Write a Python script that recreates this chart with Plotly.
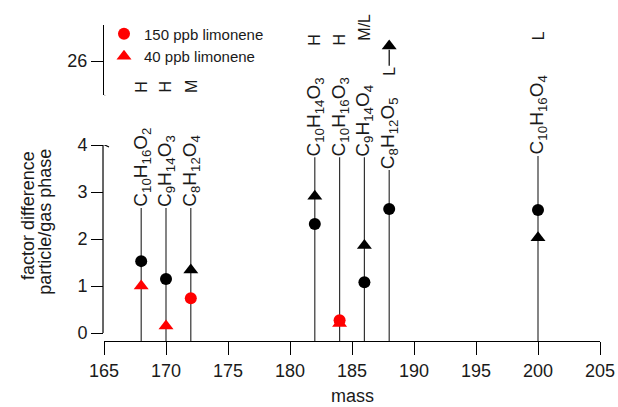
import plotly.graph_objects as go

# ---------------- data ----------------
masses = [168, 170, 172, 182, 184, 186, 188, 200]
formulas = [
    "C<sub>10</sub>H<sub>16</sub>O<sub>2</sub>",
    "C<sub>9</sub>H<sub>14</sub>O<sub>3</sub>",
    "C<sub>8</sub>H<sub>12</sub>O<sub>4</sub>",
    "C<sub>10</sub>H<sub>14</sub>O<sub>3</sub>",
    "C<sub>10</sub>H<sub>16</sub>O<sub>3</sub>",
    "C<sub>9</sub>H<sub>14</sub>O<sub>4</sub>",
    "C<sub>8</sub>H<sub>12</sub>O<sub>5</sub>",
    "C<sub>10</sub>H<sub>16</sub>O<sub>4</sub>",
]
volatility = ["H", "H", "M", "H", "H", "M/L", "L", "L"]
factor_150ppb = [1.53, 1.15, 0.74, 2.32, 0.27, 1.08, 2.64, 2.62]
factor_40ppb = [1.00, 0.15, 1.34, 2.91, 0.20, 1.86, None, 2.03]
red_150ppb = [False, False, True, False, True, False, False, False]
red_40ppb = [True, True, False, False, True, False, False, False]
offscale_mass = 188
offscale_40ppb = 26.32
x_ticks = [165, 170, 175, 180, 185, 190, 195, 200, 205]
y_ticks_lower = [0, 1, 2, 3, 4]
y_ticks_upper = [26]

# ---------------- layout helpers ----------------
FONT = "Arial, Liberation Sans, sans-serif"
TXT = "#1a1a1a"
LOW_RANGE = [-0.17, 4.0]
UP_RANGE = [25.277, 26.766]
label_base = [2.66, 2.66, 2.66, 3.74, 3.74, 3.74, 3.47, 3.77]
vol_base = [25.31, 25.31, 25.31, 26.30, 26.30, 26.41, None, 26.41]
offscale_label_y = 25.78
offscale_line = [25.90, 26.24]

fig = go.Figure()

# stems
sx, sy = [], []
for m, top in zip(masses, label_base):
    sx += [m, m, None]
    sy += [LOW_RANGE[0], top, None]
fig.add_trace(go.Scatter(x=sx, y=sy, mode="lines", line=dict(color="#333", width=1.2),
                         showlegend=False, hoverinfo="skip"))

# triangles (40 ppb)
fig.add_trace(go.Scatter(
    x=masses, y=factor_40ppb, mode="markers", showlegend=False,
    marker=dict(symbol="triangle-up", size=13,
                color=["red" if r else "black" for r in red_40ppb], line=dict(width=0))))
# circles (150 ppb)
fig.add_trace(go.Scatter(
    x=masses, y=factor_150ppb, mode="markers", showlegend=False,
    marker=dict(symbol="circle", size=12,
                color=["red" if r else "black" for r in red_150ppb], line=dict(width=0))))

# off-scale arrow at 188 (upper segment)
fig.add_trace(go.Scatter(x=[offscale_mass, offscale_mass], y=offscale_line, yaxis="y2",
                         mode="lines", line=dict(color="black", width=1.2),
                         showlegend=False, hoverinfo="skip"))
fig.add_trace(go.Scatter(x=[offscale_mass], y=[offscale_40ppb], yaxis="y2", mode="markers",
                         marker=dict(symbol="triangle-up", size=13, color="black"),
                         showlegend=False))

# legend entries
fig.add_trace(go.Scatter(x=[None], y=[None], mode="markers", name="150 ppb limonene",
                         marker=dict(symbol="circle", size=12, color="red")))
fig.add_trace(go.Scatter(x=[None], y=[None], mode="markers", name="40 ppb limonene",
                         marker=dict(symbol="triangle-up", size=13, color="red")))

annotations = []
for m, f, b in zip(masses, formulas, label_base):
    annotations.append(dict(x=m, y=b, xref="x", yref="y", text=f, textangle=-90,
                            showarrow=False, xanchor="center", yanchor="bottom",
                            font=dict(family=FONT, size=19, color=TXT), borderpad=0))
for m, v, b in zip(masses, volatility, vol_base):
    if b is None:
        continue
    annotations.append(dict(x=m, y=b, xref="x", yref="y2", text=v, textangle=-90,
                            showarrow=False, xanchor="center", yanchor="bottom",
                            font=dict(family=FONT, size=16, color=TXT), borderpad=0))
annotations.append(dict(x=offscale_mass, y=offscale_label_y, xref="x", yref="y2", text="L",
                        textangle=-90, showarrow=False, xanchor="center", yanchor="middle",
                        font=dict(family=FONT, size=16, color=TXT), borderpad=0))
# axis titles
annotations.append(dict(x=185, y=-0.174, xref="x", yref="paper", text="mass", showarrow=False,
                        xanchor="center", yanchor="middle", font=dict(family=FONT, size=18, color=TXT)))
annotations.append(dict(x=-0.153, y=0.396, xref="paper", yref="paper", text="factor difference",
                        textangle=-90, showarrow=False, xanchor="center", yanchor="middle",
                        font=dict(family=FONT, size=18, color=TXT)))
annotations.append(dict(x=-0.119, y=0.377, xref="paper", yref="paper", text="particle/gas phase",
                        textangle=-90, showarrow=False, xanchor="center", yanchor="middle",
                        font=dict(family=FONT, size=18, color=TXT)))

shapes = [
    # lower y axis line from 0 to 4
    dict(type="line", xref="paper", yref="y", x0=-0.002, x1=-0.002, y0=0, y1=4,
         line=dict(color="black", width=1.2)),
    # break marks
    dict(type="line", xref="x", yref="y", xsizemode="pixel", ysizemode="pixel",
         xanchor=165, yanchor=4, x0=-3, x1=5, y0=2, y1=-2, line=dict(color="black", width=1.2)),
    dict(type="line", xref="x", yref="y2", xsizemode="pixel", ysizemode="pixel",
         xanchor=165, yanchor=UP_RANGE[0], x0=-4, x1=5, y0=2, y1=-3, line=dict(color="black", width=1.2)),
]

fig.update_layout(
    width=618, height=407,
    margin=dict(l=104, r=18, t=25, b=66, autoexpand=False),
    paper_bgcolor="white", plot_bgcolor="white",
    font=dict(family=FONT, size=18, color=TXT),
    xaxis=dict(range=[165, 205], tickvals=x_ticks, showline=True, linecolor="black", linewidth=1.2,
               ticks="outside", ticklen=13, tickcolor="black", tickwidth=1.2, showgrid=False,
               zeroline=False, tickfont=dict(size=18), automargin=False),
    yaxis=dict(domain=[0, 0.62], range=LOW_RANGE, tickvals=y_ticks_lower, showline=False,
               ticks="outside", ticklen=12, tickcolor="black", tickwidth=1.2, showgrid=False,
               zeroline=False, tickfont=dict(size=18), automargin=False),
    yaxis2=dict(domain=[0.778, 1], range=UP_RANGE, tickvals=y_ticks_upper, showline=True,
                linecolor="black", linewidth=1.2, ticks="outside", ticklen=12, tickcolor="black",
                tickwidth=1.2, showgrid=False, zeroline=False, anchor="x", tickfont=dict(size=18),
                automargin=False),
    legend=dict(x=0.0, y=1.024, xanchor="left", yanchor="top", bgcolor="rgba(0,0,0,0)",
                font=dict(family=FONT, size=15, color=TXT), tracegroupgap=0),
    showlegend=True,
    annotations=annotations,
    shapes=shapes,
)

fig.write_html("out.html", config={"displayModeBar": False},
               post_script="document.body.style.margin='0px';")
